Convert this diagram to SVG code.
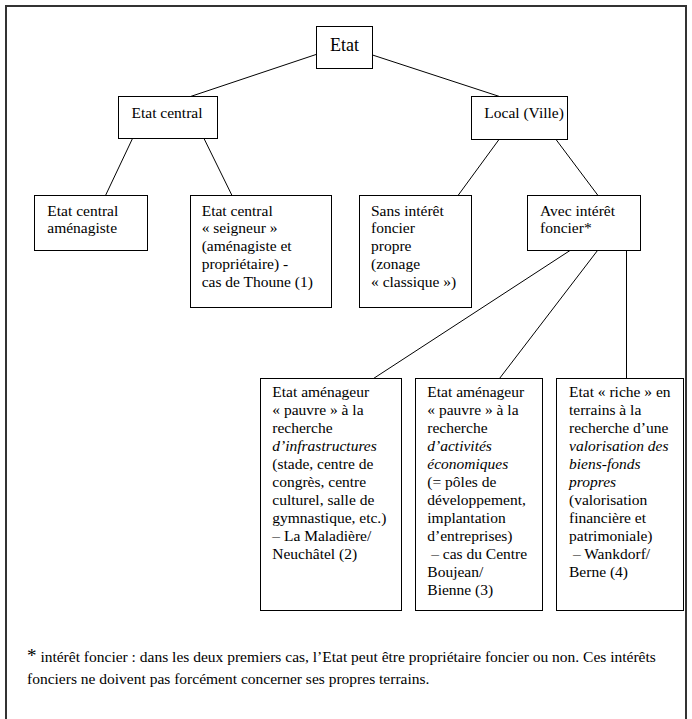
<svg xmlns="http://www.w3.org/2000/svg" width="692" height="719" viewBox="0 0 692 719">
<style>
.frame{fill:#fff;stroke:#333;stroke-width:2}
.box{fill:#fff;stroke:#000;stroke-width:1}
.conn line{stroke:#000;stroke-width:1}
text{font-family:"Liberation Serif","Times New Roman",serif;font-size:15.5px;fill:#000}
.i{font-style:italic}
.big{font-size:18px}
</style>
<rect class="frame" x="6" y="6" width="680" height="730"/>
<g class="conn">
<line x1="316" y1="54.5" x2="190.5" y2="96.5"/>
<line x1="372.5" y1="55" x2="499.5" y2="96.5"/>
<line x1="132.5" y1="138.5" x2="105.5" y2="195.5"/>
<line x1="204" y1="138.5" x2="232" y2="195.5"/>
<line x1="499" y1="139.5" x2="458" y2="195.5"/>
<line x1="556" y1="139.5" x2="598" y2="195.5"/>
<line x1="570" y1="250.5" x2="373.5" y2="378.5"/>
<line x1="597.5" y1="250.5" x2="499.5" y2="378.5"/>
<line x1="626.5" y1="250.5" x2="626.5" y2="378.5"/>
</g>
<g id="etat">
<rect class="box" x="316.5" y="26.5" width="56" height="42"/>
<text class="big" x="344.5" y="50.5" text-anchor="middle">Etat</text>
</g>
<g id="etat-central">
<rect class="box" x="118.5" y="96.5" width="99" height="42"/>
<text x="131.5" y="117.5">Etat central</text>
</g>
<g id="local">
<rect class="box" x="471.5" y="96.5" width="96" height="43"/>
<text x="484.3" y="118.3">Local (Ville)</text>
</g>
<g id="amenagiste">
<rect class="box" x="34.5" y="195.5" width="113" height="55"/>
<text x="47.3" y="215.7">Etat central</text>
<text x="47.3" y="233.45">aménagiste</text>
</g>
<g id="seigneur">
<rect class="box" x="190.5" y="195.5" width="141" height="112"/>
<text x="201.7" y="215.7">Etat central</text>
<text x="201.7" y="233.45">« seigneur »</text>
<text x="201.7" y="251.2">(aménagiste et</text>
<text x="201.7" y="268.95">propriétaire) -</text>
<text x="201.7" y="286.7">cas de Thoune (1)</text>
</g>
<g id="sans-interet">
<rect class="box" x="359.5" y="195.5" width="112" height="112"/>
<text x="371" y="215.7">Sans intérêt</text>
<text x="371" y="233.45">foncier</text>
<text x="371" y="251.2">propre</text>
<text x="371" y="268.95">(zonage</text>
<text x="371" y="286.7">« classique »)</text>
</g>
<g id="avec-interet">
<rect class="box" x="527.5" y="195.5" width="113" height="55"/>
<text x="540" y="215.7">Avec intérêt</text>
<text x="540" y="233.45">foncier*</text>
</g>
<g id="infrastructures">
<rect class="box" x="260.5" y="378.5" width="141" height="232"/>
<text x="272.3" y="397.3">Etat aménageur</text>
<text x="272.3" y="415.3">« pauvre » à la</text>
<text x="272.3" y="433.3">recherche</text>
<text x="272.3" y="451.3" class="i">d’infrastructures</text>
<text x="272.3" y="469.3">(stade, centre de</text>
<text x="272.3" y="487.3">congrès, centre</text>
<text x="272.3" y="505.3">culturel, salle de</text>
<text x="272.3" y="523.3">gymnastique, etc.)</text>
<text x="272.3" y="541.3">– La Maladière/</text>
<text x="272.3" y="559.3">Neuchâtel (2)</text>
</g>
<g id="activites">
<rect class="box" x="415.5" y="378.5" width="127" height="232"/>
<text x="427.3" y="397.3">Etat aménageur</text>
<text x="427.3" y="415.3">« pauvre » à la</text>
<text x="427.3" y="433.3">recherche</text>
<text x="427.3" y="451.3" class="i">d’activités</text>
<text x="427.3" y="469.3" class="i">économiques</text>
<text x="427.3" y="487.3">(= pôles de</text>
<text x="427.3" y="505.3">développement,</text>
<text x="427.3" y="523.3">implantation</text>
<text x="427.3" y="541.3">d’entreprises)</text>
<text x="427.3" y="559.3" xml:space="preserve"> – cas du Centre</text>
<text x="427.3" y="577.3">Boujean/</text>
<text x="427.3" y="595.3">Bienne (3)</text>
</g>
<g id="riche">
<rect class="box" x="556.5" y="378.5" width="127" height="232"/>
<text x="569" y="397.3">Etat « riche » en</text>
<text x="569" y="415.3">terrains à la</text>
<text x="569" y="433.3">recherche d’une</text>
<text x="569" y="451.3" class="i">valorisation des</text>
<text x="569" y="469.3" class="i">biens-fonds</text>
<text x="569" y="487.3" class="i">propres</text>
<text x="569" y="505.3">(valorisation</text>
<text x="569" y="523.3">financière et</text>
<text x="569" y="541.3">patrimoniale)</text>
<text x="569" y="559.3" xml:space="preserve"> – Wankdorf/</text>
<text x="569" y="577.3">Berne (4)</text>
</g>
<g id="footnote">
<text x="27" y="662"><tspan font-size="19px">*</tspan> intérêt foncier : dans les deux premiers cas, l’Etat peut être propriétaire foncier ou non. Ces intérêts</text>
<text x="27" y="684">fonciers ne doivent pas forcément concerner ses propres terrains.</text>
</g>
</svg>
